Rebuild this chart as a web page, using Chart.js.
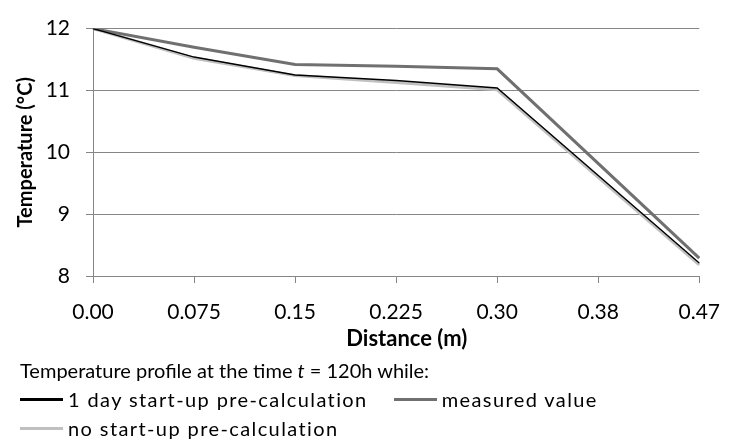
<!DOCTYPE html>
<html>
<head>
    <script src="https://cdn.jsdelivr.net/npm/chart.js"></script>
    <title>Temperature profile</title>
    <style>
        body { margin: 0; background: #fff; }
        #wrap { position: relative; width: 737px; height: 443px; }
        #legend { position: absolute; left: 20px; top: 356px; font-family: Lato, sans-serif; font-size: 20px; color: #000; line-height: 29px; }
        .row { display: flex; align-items: center; white-space: pre; }
        .row .txt { letter-spacing: 1.4px; }
        .swatch { display: inline-block; width: 43px; height: 3px; margin-right: 5px; }
    </style>
</head>
<body>
    <div id="wrap">
        <canvas id="tempChart" width="737" height="443"></canvas>
        <div id="legend">
            <div class="row">Temperature profile at the time <i>t</i> = 120h while:</div>
            <div class="row"><span class="swatch" style="background:#000"></span><span class="txt">1 day start-up pre-calculation</span><span style="width:26px"></span><span class="swatch" style="background:#707070"></span><span class="txt">measured value</span></div>
            <div class="row"><span class="swatch" style="background:#c0c0c0"></span><span class="txt">no start-up pre-calculation</span></div>
        </div>
    </div>

    <script>
        // distances (m) as printed on the axis
        const distances = ['0.00', '0.075', '0.15', '0.225', '0.30', '0.38', '0.47'];
        // no sample at 0.38, the line just runs through it
        const oneDayPreCalc = [12, 11.54, 11.25, 11.16, 11.04, null, 8.21];
        const measured = [12, 11.70, 11.42, 11.39, 11.35, null, 8.29];
        const noPreCalc = [12, 11.52, 11.24, 11.13, 11.01, null, 8.18];
        const yTicks = [8, 9, 10, 11, 12];

        const ctx = document.getElementById('tempChart').getContext('2d');
        const chart = new Chart(ctx, {
            type: 'line',
            data: {
                labels: distances,
                datasets: [
                    { label: '1 day start-up pre-calculation', data: oneDayPreCalc, borderColor: '#000000', borderWidth: 1.4 },
                    { label: 'measured value', data: measured, borderColor: '#707070', borderWidth: 3 },
                    { label: 'no start-up pre-calculation', data: noPreCalc, borderColor: '#c0c0c0', borderWidth: 3 }
                ]
            },
            options: {
                responsive: false,
                animation: false,
                spanGaps: true,
                elements: {
                    point: { radius: 0 },
                    line: { tension: 0 }
                },
                layout: { padding: { top: 20, right: 26, bottom: 91, left: 0 } },
                plugins: {
                    legend: { display: false },
                    tooltip: { enabled: false }
                },
                scales: {
                    x: {
                        afterFit: scale => { scale.height = 76; },
                        grid: { drawOnChartArea: false, drawTicks: true, tickLength: 7, color: '#868686' },
                        border: { color: '#868686' },
                        ticks: { color: '#000', padding: 17, maxRotation: 0, autoSkip: false, font: { family: 'Lato', size: 21 } },
                        title: { display: true, text: '    Distance (m)', color: '#000', padding: 0, font: { family: 'Lato', size: 22, weight: 'bold' } }
                    },
                    y: {
                        min: 8,
                        max: 12,
                        afterFit: scale => { scale.width = 93; },
                        afterBuildTicks: scale => { scale.ticks = yTicks.map(v => ({ value: v })); },
                        grid: { color: '#868686', tickLength: 7 },
                        border: { color: '#868686' },
                        ticks: { color: '#000', padding: 16, font: { family: 'Lato', size: 21 } },
                        title: { display: true, text: 'Temperature (°C)', color: '#000', padding: { top: 14 }, font: { family: 'Lato', size: 20, weight: 'bold' } }
                    }
                }
            }
        });
    </script>
</body>
</html>
